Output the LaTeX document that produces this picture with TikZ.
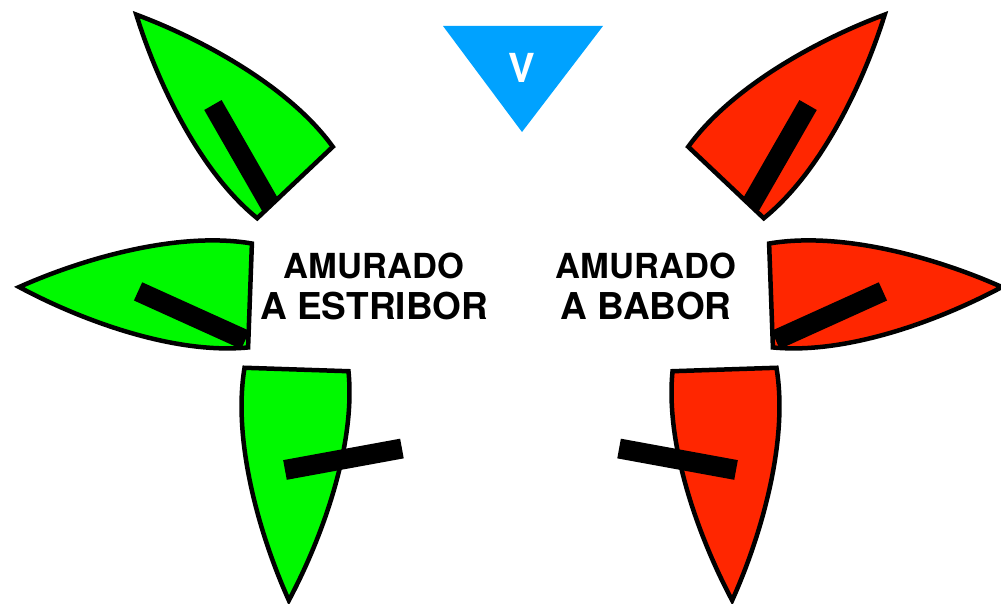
\documentclass[tikz,border=0pt]{standalone}
\usepackage{fontspec}
\setmainfont{TeX Gyre Heros}
\definecolor{verde}{HTML}{00F900}
\definecolor{rojo}{HTML}{FF2600}
\definecolor{azul}{HTML}{00A2FF}
\newcommand{\arriba}[1]{{\fontsize{34.5}{41}\selectfont #1}}
\tikzset{
    hull/.style={draw=black, line width=4.5pt},
    boom/.style={draw=black, line width=20pt},
    tack/.style={font=\bfseries\fontsize{37}{41}\selectfont, align=center},
}
\begin{document}
\begin{tikzpicture}[x=1pt, y=1pt]
    \useasboundingbox (0,0) rectangle (1001,604);
    % wind
    \fill[azul] (443,578)--(603,578)--(522,472)--cycle;
    \node[font=\bfseries\fontsize{40}{40}\selectfont, text=white] (viento) at (522,536) {V};
    \foreach \side/\col in {1/verde,-1/rojo}{
        \begin{scope}[xshift=510.5pt, xscale=\side]
        % origin at the middle of the transom, bow along +x
        \foreach \x/\y/\a/\bx/\by/\ex/\ey in {-215.5/421.5/133.4/0/33.6/112.7/6.4,
                                               -260.5/308.5/177.9/3/44.6/112/0,
                                               -214/234.5/268.1/100.8/-8.2/75.5/108}{
            \begin{scope}[shift={(\x,\y)}, rotate=\a]
            \filldraw[hull, fill=\col] (0,-52)--(0,52) .. controls (75,62) and (170,30) .. (231,0)
                .. controls (170,-30) and (75,-62) .. (0,-52)--cycle;
            \draw[boom] (\bx,\by)--(\ex,\ey);
            \end{scope}
        }
        \end{scope}
    }
    \node[tack] (estribor) at (374,318) {\arriba{AMURADO}\\A ESTRIBOR};
    \node[tack] (babor) at (646,318) {\arriba{AMURADO}\\A BABOR};
\end{tikzpicture}
\end{document}
